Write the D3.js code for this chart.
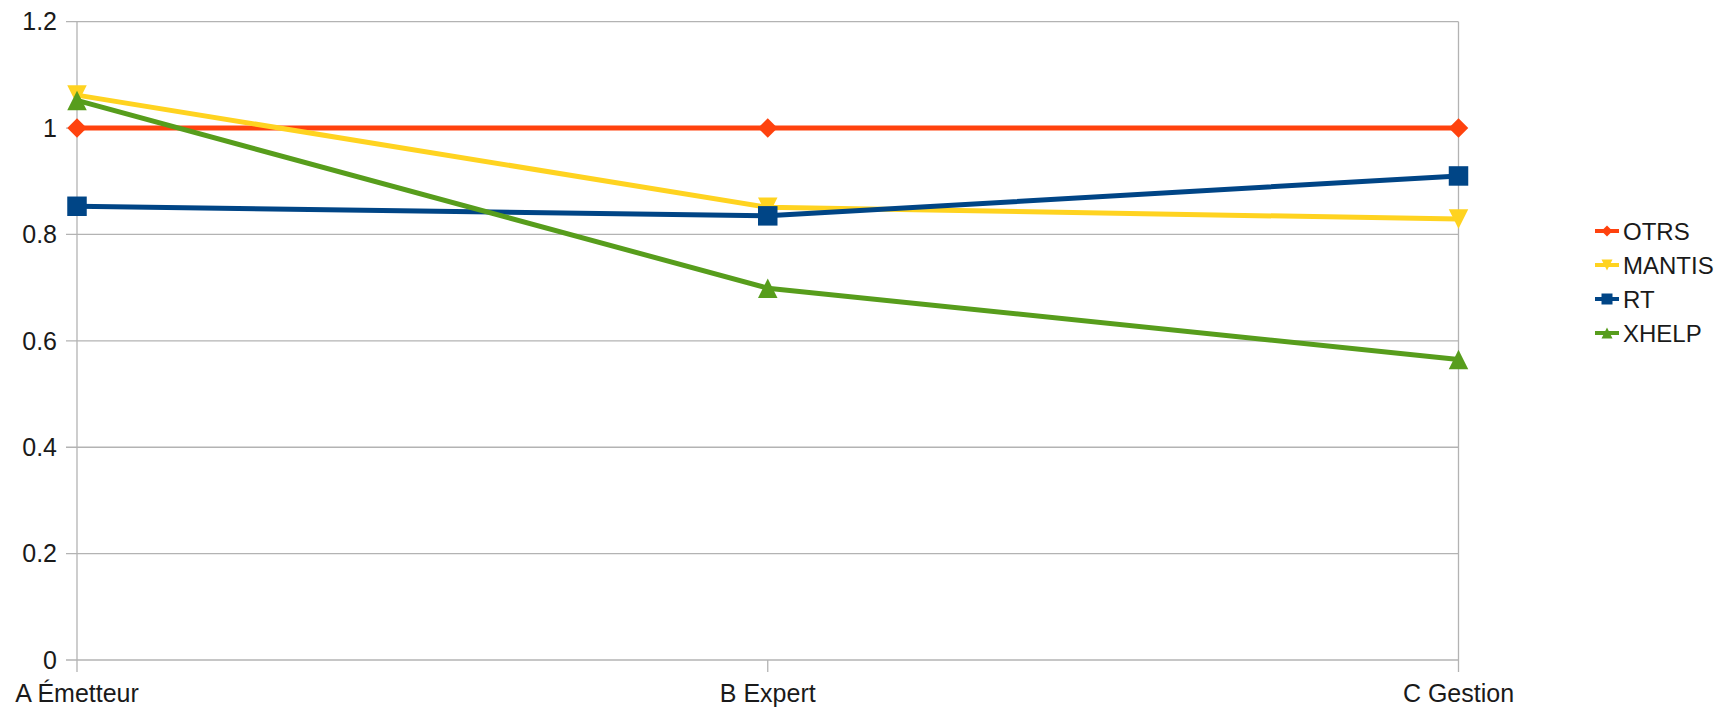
<!DOCTYPE html>
<html><head><meta charset="utf-8">
<script src="https://cdn.jsdelivr.net/npm/d3@7"></script>
<style>body{margin:0;background:#fff;} svg{display:block;} text{font-family:"Liberation Sans",Arial,sans-serif;fill:#1a1a1a;}</style>
</head><body><svg id="c" width="1735" height="708"></svg>
<script>
const categories = ["A Émetteur", "B Expert", "C Gestion"];
const seriesNames = ["OTRS", "MANTIS", "RT", "XHELP"];
const otrs   = [1.0, 1.0, 1.0];
const mantis = [1.062, 0.851, 0.829];
const rt     = [0.853, 0.835, 0.910];
const xhelp  = [1.052, 0.699, 0.565];
const yTicks = [0, 0.2, 0.4, 0.6, 0.8, 1, 1.2];
const colors = ["#ff420e", "#ffd320", "#004586", "#579d1c"];

(function(){
const svg = d3.select("#c");
const pL = 77, pR = 1458.5, pT = 21.7, pB = 660;
const x = d3.scalePoint().domain(categories).range([pL, pR]);
const y = d3.scaleLinear().domain([0, 1.2]).range([pB, pT]);

// gridlines
svg.append("g").selectAll("line").data(yTicks).join("line")
  .attr("x1", pL - 11).attr("x2", pR)
  .attr("y1", d => y(d)).attr("y2", d => y(d))
  .attr("stroke", "#b3b3b3").attr("stroke-width", 1.3);
// left/right vertical lines
svg.append("line").attr("x1", pL).attr("x2", pL).attr("y1", pT).attr("y2", pB + 12)
  .attr("stroke", "#b3b3b3").attr("stroke-width", 1.3);
svg.append("line").attr("x1", pR).attr("x2", pR).attr("y1", pT).attr("y2", pB + 12)
  .attr("stroke", "#b3b3b3").attr("stroke-width", 1.3);
svg.append("line").attr("x1", x(categories[1])).attr("x2", x(categories[1])).attr("y1", pB).attr("y2", pB + 12)
  .attr("stroke", "#b3b3b3").attr("stroke-width", 1.3);

// y labels
svg.append("g").selectAll("text").data(yTicks).join("text")
  .attr("x", pL - 20).attr("y", d => y(d)).attr("dy", "0.35em")
  .attr("text-anchor", "end").attr("font-size", 25)
  .text(d => d3.format("")(d));
// x labels
svg.append("g").selectAll("text").data(categories).join("text")
  .attr("x", d => x(d)).attr("y", 702)
  .attr("text-anchor", "middle").attr("font-size", 25)
  .text(d => d);

// symbol types (size = full width in px)
const symDiamond = {draw(c, s){const r=s/2; c.moveTo(0,-r); c.lineTo(r,0); c.lineTo(0,r); c.lineTo(-r,0); c.closePath();}};
const symSquare = {draw(c, s){const r=s/2; c.rect(-r,-r,s,s);}};
const symTriDown = {draw(c, s){const r=s/2; c.moveTo(-r,-r); c.lineTo(r,-r); c.lineTo(0,r); c.closePath();}};
const symTriUp = {draw(c, s){const r=s/2; c.moveTo(-r,r); c.lineTo(r,r); c.lineTo(0,-r); c.closePath();}};
const symbols = [symDiamond, symTriDown, symSquare, symTriUp];

const allSeries = [otrs, mantis, rt, xhelp];
const line = d3.line().x((d, i) => x(categories[i])).y(d => y(d));

allSeries.forEach((vals, si) => {
  const g = svg.append("g");
  g.append("path").attr("d", line(vals)).attr("fill", "none")
    .attr("stroke", colors[si]).attr("stroke-width", 5).attr("stroke-linejoin", "round");
  g.selectAll("path.m").data(vals).join("path").attr("class", "m")
    .attr("transform", (d, i) => `translate(${x(categories[i])},${y(d)})`)
    .attr("d", d3.symbol().type(symbols[si]).size(19.5)())
    .attr("fill", colors[si]);
});

// legend
const lg = svg.append("g");
const ly = d3.scalePoint().domain(seriesNames).range([231, 333]);
seriesNames.forEach((n, si) => {
  const yy = ly(n);
  lg.append("line").attr("x1", 1595).attr("x2", 1619).attr("y1", yy).attr("y2", yy)
    .attr("stroke", colors[si]).attr("stroke-width", 4);
  lg.append("path").attr("transform", `translate(1607,${yy})`)
    .attr("d", d3.symbol().type(symbols[si]).size(11)()).attr("fill", colors[si]);
  lg.append("text").attr("x", 1623).attr("y", yy).attr("dy", "0.36em")
    .attr("font-size", 24).text(n);
});
})();
</script></body></html>
